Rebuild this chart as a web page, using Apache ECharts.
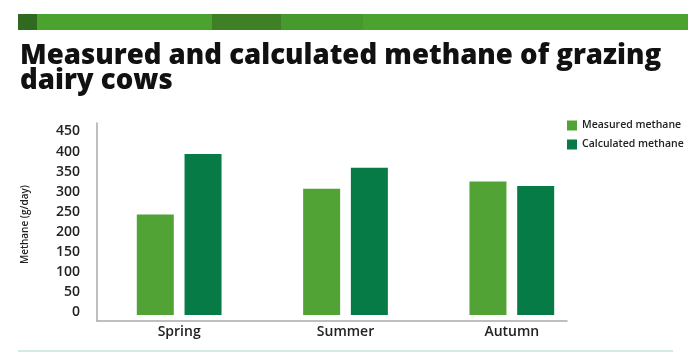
<!DOCTYPE html>
<html>
<head>
<meta charset="utf-8">
<script src="https://cdn.jsdelivr.net/npm/echarts@6/dist/echarts.min.js"></script>
<style>
html,body{margin:0;padding:0;background:#fff;}
#c{width:700px;height:352px;}
</style>
</head>
<body>
<div id="c"></div>
<script>
var categories = ['Spring', 'Summer', 'Autumn'];
var measured = [250, 314, 332];
var calculated = [400, 366, 321];
var yTicks = [0, 50, 100, 150, 200, 250, 300, 350, 400, 450];

var FONT = '"Open Sans", "Noto Sans", sans-serif';
var chart = echarts.init(document.getElementById('c'), null, {renderer: 'canvas'});
chart.setOption({
  backgroundColor: '#ffffff',
  animation: false,
  title: {
    text: 'Measured and calculated methane of grazing\ndairy cows',
    left: 15, top: 39,
    textStyle: {fontFamily: FONT, fontWeight: 800, fontSize: 27.6, lineHeight: 25, color: '#111'}
  },
  graphic: [
    {type: 'rect', shape: {x: 18, y: 14, width: 670, height: 16}, style: {fill: '#4ba22f'}},
    {type: 'rect', shape: {x: 18, y: 14, width: 19, height: 16}, style: {fill: '#2f6a1f'}},
    {type: 'rect', shape: {x: 212, y: 14, width: 69, height: 16}, style: {fill: '#3f8026'}},
    {type: 'rect', shape: {x: 281, y: 14, width: 82, height: 16}, style: {fill: '#46992c'}},
    {type: 'rect', shape: {x: 18, y: 350, width: 655, height: 2}, style: {fill: '#d3ece3'}}
  ],
  legend: {
    orient: 'vertical', left: 562, top: 115,
    itemWidth: 10, itemHeight: 10, itemGap: 8,
    icon: 'rect',
    textStyle: {fontFamily: FONT, fontSize: 10.5, fontWeight: 600, color: '#222'},
    data: ['Measured methane', 'Calculated methane']
  },
  grid: [
    {left: 96, right: 105, top: 134, bottom: 37, containLabel: false},
    {left: 97, right: 133, top: 123, bottom: 31, containLabel: false}
  ],
  xAxis: [
    {
      type: 'category', gridIndex: 0, data: categories, offset: 6,
      axisLine: {show: false}, axisTick: {show: false},
      axisLabel: {fontFamily: FONT, fontSize: 14, fontWeight: 600, color: '#222', margin: 4}
    },
    {
      type: 'value', gridIndex: 1, min: 0, max: 1,
      axisLine: {show: true, lineStyle: {color: '#aaaaaa', width: 1.5}},
      axisTick: {show: false}, axisLabel: {show: false}, splitLine: {show: false}
    }
  ],
  yAxis: [
    {
      type: 'value', gridIndex: 0, min: 0, max: 450, interval: 50,
      name: 'Methane (g/day)', nameLocation: 'middle', nameGap: 66, nameRotate: 90,
      nameTextStyle: {fontFamily: FONT, fontSize: 10, fontWeight: 600, color: '#222'},
      axisLine: {show: false}, axisTick: {show: false}, splitLine: {show: false},
      axisLabel: {fontFamily: FONT, fontSize: 14, fontWeight: 600, color: '#222', margin: 16,
        verticalAlign: 'bottom', lineHeight: 5,
        formatter: function (v) { return yTicks.indexOf(v) >= 0 ? String(v) : ''; }}
    },
    {
      type: 'value', gridIndex: 1, min: 0, max: 1,
      axisLine: {show: true, lineStyle: {color: '#aaaaaa', width: 1.5}},
      axisTick: {show: false}, axisLabel: {show: false}, splitLine: {show: false}
    }
  ],
  series: [
    {name: 'Measured methane', type: 'bar', xAxisIndex: 0, yAxisIndex: 0, data: measured,
      barWidth: 37, barGap: '29%', itemStyle: {color: '#52a335'}},
    {name: 'Calculated methane', type: 'bar', xAxisIndex: 0, yAxisIndex: 0, data: calculated,
      barWidth: 37, barGap: '29%', itemStyle: {color: '#077b45'}}
  ]
});
</script>
</body>
</html>
